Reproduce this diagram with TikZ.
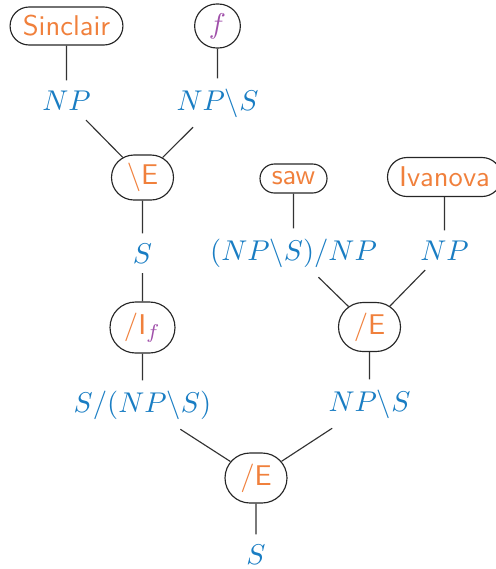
\documentclass[tikz,border=0pt]{standalone}
\usepackage{fontspec}
\usetikzlibrary{shapes.misc}

\definecolor{wordorange}{RGB}{240,128,60}
\definecolor{typeblue}{RGB}{25,125,195}
\definecolor{varpurple}{RGB}{160,80,170}

\tikzset{
  pill/.style={rounded rectangle, draw=black!85, line width=0.4pt,
    inner sep=0pt, font=\sffamily, text=wordorange},
  cat/.style={text=typeblue, anchor=base},
  link/.style={draw=black!80, line width=0.4pt},
}

\begin{document}
\begin{tikzpicture}[x=0.35pt,y=-0.35pt]
\useasboundingbox (0,0) rectangle (496,569);

% left branch: Sinclair and the hypothetical f
\node[pill, minimum width=39.5pt, minimum height=13.3pt] (sinclair) at (66.5,26) {Sinclair};
\node[pill, text=varpurple, minimum width=16pt, minimum height=15.4pt] (f) at (217.5,26) {$f$};
\node[cat] (np1) at (66.5,110) {$NP$};
\node[cat] (nps1) at (217.5,110) {$NP\backslash S$};
\node[pill, minimum width=21.7pt, minimum height=15.75pt] (elimL) at (142.5,177.5) {\textbackslash E};
\node[cat] (s1) at (142.5,263) {$S$};
\node[pill, minimum width=22.75pt, minimum height=17.85pt] (intro) at (142.5,327.5) {/I$_{\color{varpurple}f}$};
\node[cat] (raised) at (142.5,412) {$S/(NP\backslash S)$};

% right branch: saw Ivanova
\node[pill, minimum width=23.45pt, minimum height=10.15pt] (saw) at (293.5,178.5) {saw};
\node[pill, minimum width=39.9pt, minimum height=13.65pt] (ivanova) at (444.5,177) {Ivanova};
\node[cat] (tv) at (293.5,260) {$(NP\backslash S)/NP$};
\node[cat] (np2) at (444.5,260) {$NP$};
\node[pill, minimum width=21.7pt, minimum height=17.15pt] (elimR) at (369.5,327) {/E};
\node[cat] (nps2) at (369.5,411) {$NP\backslash S$};

% root
\node[pill, minimum width=21.7pt, minimum height=17.5pt] (elimB) at (256,478) {/E};
\node[cat] (s2) at (256,564) {$S$};

\draw[link] (sinclair) -- (np1);
\draw[link] (f) -- (nps1);
\draw[link] (np1) -- (elimL);
\draw[link] (nps1) -- (elimL);
\draw[link] (elimL) -- (s1);
\draw[link] (s1) -- (intro);
\draw[link] (intro) -- (raised);

\draw[link] (saw) -- (tv);
\draw[link] (ivanova) -- (np2);
\draw[link] (tv) -- (elimR);
\draw[link] (np2) -- (elimR);
\draw[link] (elimR) -- (nps2);

\draw[link] (raised) -- (elimB);
\draw[link] (nps2) -- (elimB);
\draw[link] (elimB) -- (s2);
\end{tikzpicture}
\end{document}
